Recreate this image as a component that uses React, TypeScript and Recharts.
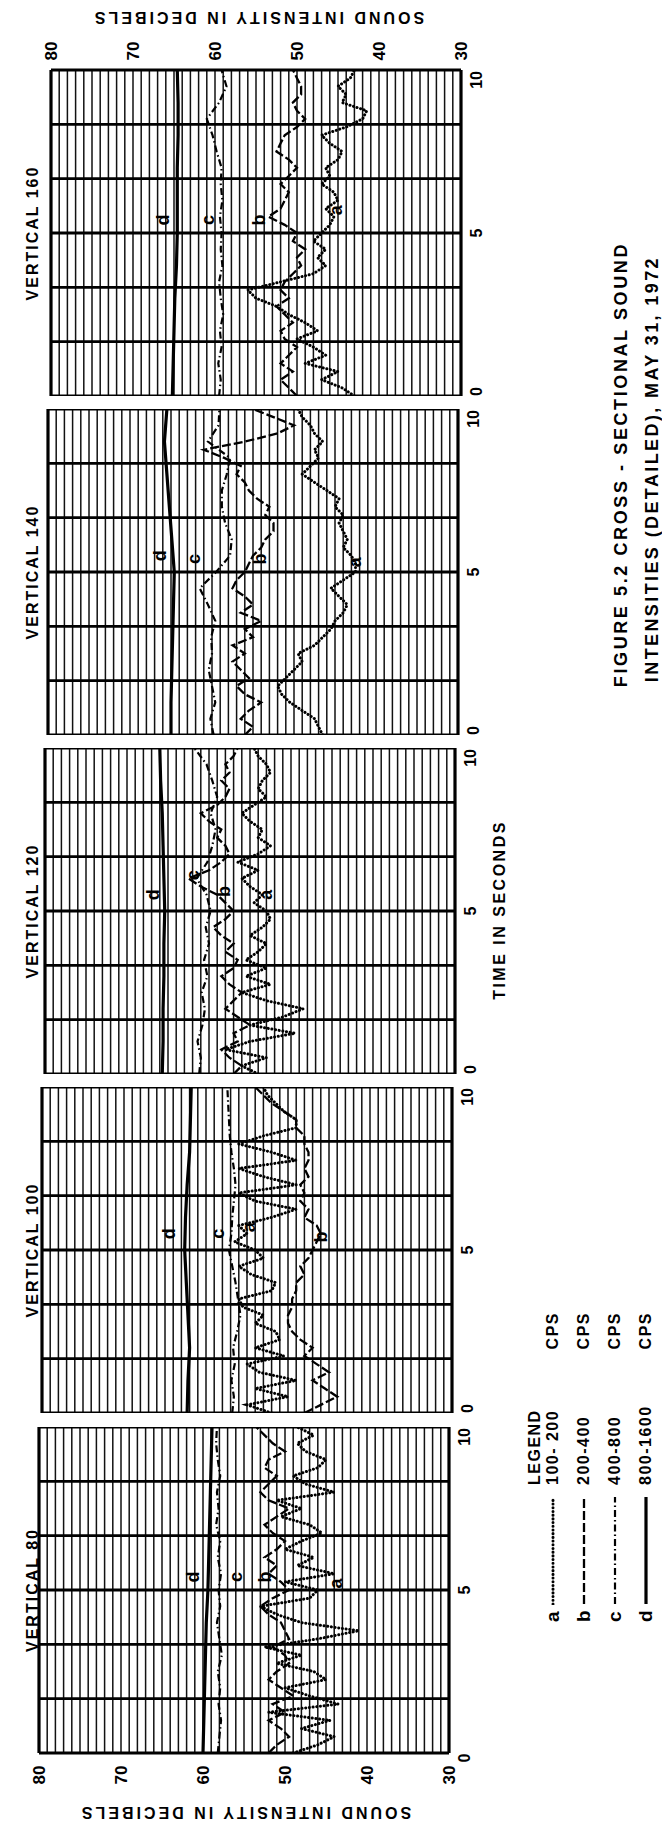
import React from 'react';
import { LineChart, Line, XAxis, YAxis, ReferenceLine, ReferenceDot } from 'recharts';

// sample times (seconds)
const T_Q = [0, 0.25, 0.5, 0.75, 1, 1.25, 1.5, 1.75, 2, 2.25, 2.5, 2.75, 3, 3.25, 3.5, 3.75, 4, 4.25, 4.5, 4.75, 5, 5.25, 5.5, 5.75, 6, 6.25, 6.5, 6.75, 7, 7.25, 7.5, 7.75, 8, 8.25, 8.5, 8.75, 9, 9.25, 9.5, 9.75, 10];
const T_H = [0, 0.5, 1, 1.5, 2, 2.5, 3, 3.5, 4, 4.5, 5, 5.5, 6, 6.5, 7, 7.5, 8, 8.5, 9, 9.5, 10];
const T_S = [0, 1, 2, 3, 4, 5, 6, 7, 8, 9, 10];

const DB_TICKS = [80, 70, 60, 50, 40, 30];
const DB_GRID = [30, 31, 32, 33, 34, 35, 36, 37, 38, 39, 40, 41, 42, 43, 44, 45, 46, 47, 48, 49, 50, 51, 52, 53, 54, 55, 56, 57, 58, 59, 60, 61, 62, 63, 64, 65, 66, 67, 68, 69, 70, 71, 72, 73, 74, 75, 76, 77, 78, 79, 80];
const TIME_TICKS = [0, 5, 10];
const TIME_BANDS = [0, 1.667, 3.333, 5, 6.667, 8.333, 10];

// sound intensity (dB): a 100-200, b 200-400, c 400-800, d 800-1600 cps
const V160_A = [43, 44.5, 47, 45, 49, 46.5, 48, 50, 47.5, 49, 51, 52.5, 55, 56, 52, 48, 46.5, 47.5, 46.5, 48, 47, 46, 45.5, 46.5, 45, 45.5, 47, 46, 46.5, 45, 44.5, 46, 47, 44, 42, 41.5, 44.5, 44, 45, 43.5, 43];
const V160_B = [50, 51, 52, 50.5, 52, 51, 50, 51.5, 52, 50.5, 51.5, 52.5, 51, 52, 51.5, 50.5, 49.5, 50, 49, 50.5, 50, 51.5, 53.5, 52, 51.5, 51, 52, 51, 50, 51, 52.5, 52, 51.5, 50, 49, 50, 50.5, 49.5, 49.5, 50, 50.5];
const V160_C = [59.5, 59.3, 59.6, 59.2, 59.4, 59.0, 59.3, 59.5, 59.1, 59.3, 59.2, 59.4, 59.1, 59.3, 59.2, 59.8, 60.3, 61, 59.5, 58.6, 59.2];
const V160_D = [65.2, 65.1, 65.0, 64.9, 64.7, 64.6, 64.6, 64.6, 64.5, 64.5, 64.6];

const V140_A = [46.5, 47, 47.5, 49, 50.5, 51.5, 52, 51, 50, 49, 49.5, 47.5, 46.5, 45.5, 45, 44, 43.5, 44.5, 45.5, 44, 42.5, 42.5, 43, 44, 43.5, 44, 44.5, 44, 45, 44.5, 46, 47.5, 49, 48, 47, 47.5, 46.5, 47.5, 48, 49, 49.5];
const V140_B = [56, 55, 56.5, 55.5, 54, 56, 57, 55.5, 56.5, 57.5, 56, 57.5, 55, 56, 54, 56.5, 55, 56, 57.5, 57, 56, 55.5, 55, 54, 53.5, 52.5, 52.5, 53.5, 53, 54.5, 55.5, 56, 57, 56.5, 58.5, 61, 56, 52, 50, 52.5, 55];
const V140_C = [59.8, 60.2, 59.6, 60.0, 60.4, 60.0, 60.1, 59.6, 60.5, 61.5, 59.5, 57.8, 57.6, 58.4, 58.8, 58.8, 58.2, 57.8, 60.5, 59.2, 59.1];
const V140_D = [65.0, 65.0, 64.9, 64.8, 64.7, 64.6, 64.9, 65.2, 65.5, 65.8, 65.5];

const V120_A = [54, 56, 53, 58, 55, 49.5, 55, 51, 48.5, 53, 56, 52.5, 55.5, 53, 55.5, 54, 53, 55, 53.5, 52.5, 53, 54.5, 53.5, 55, 56, 54, 56.5, 54, 52.5, 54, 53.5, 55, 56, 54.5, 53, 54, 53.5, 52.5, 53, 54, 54.5];
const V120_B = [57, 56, 57.5, 58.5, 56.5, 57, 55, 56.5, 58, 57, 56, 57.5, 58.5, 57, 56.5, 58, 57, 58.5, 59.5, 58, 57, 58, 59, 61, 62.5, 60, 58.5, 57.5, 58, 59, 58.5, 60, 61, 59, 58, 57.5, 58.5, 57.5, 58, 57, 56.5];
const V120_C = [61.2, 61.0, 61.4, 60.8, 60.5, 60.9, 60.2, 60.6, 60.0, 60.4, 59.8, 60.3, 61.5, 60.2, 59.6, 59.2, 59.8, 59.0, 59.6, 60.3, 61.8];
const V120_D = [65.7, 65.6, 65.6, 65.5, 65.5, 65.4, 65.5, 65.6, 65.7, 65.9, 66.0];

const V100_A = [52, 55, 50, 54, 49, 53.5, 55, 50.5, 54, 51, 51.5, 54, 53, 55.5, 56, 52, 51.5, 54.5, 56, 53, 54, 56.5, 55, 56, 52, 49, 54, 56, 49, 53, 56, 49, 52, 56, 53, 49, 49, 50.5, 51.5, 52.5, 53];
const V100_B = [48, 46, 44, 45.5, 47, 45, 46.5, 48, 47, 48.5, 49.5, 50, 50, 49.5, 49.5, 49, 49, 48, 48.5, 47.5, 47, 46.5, 46, 46.5, 48, 47.5, 48.5, 48, 48.5, 47.5, 48, 47.5, 47.5, 48, 48, 49, 49, 50.5, 52, 53, 54];
const V100_C = [56.8, 56.6, 56.9, 56.5, 56.7, 56.2, 55.8, 56.1, 56.4, 56.8, 57.2, 56.9, 56.8, 56.6, 56.4, 56.6, 56.9, 57.1, 57.2, 57.3, 57.4];
const V100_D = [62.3, 62.2, 62.0, 62.2, 62.4, 62.6, 62.5, 62.3, 62.0, 61.9, 61.8];

const V80_A = [49, 46, 44, 48, 44.5, 52, 43.5, 47, 50, 45, 46.5, 51, 48, 52.5, 46, 41, 48, 51, 53, 47, 46, 50, 44, 48.5, 46.5, 50, 48, 45.5, 47, 50.5, 48, 51, 44, 47.5, 49, 46, 45, 47.5, 48.5, 46.5, 48.5];
const V80_B = [52, 51, 49.5, 50.5, 52, 50, 51.5, 49, 50.5, 52, 51, 49.5, 50, 51.5, 49.5, 50, 50.5, 52, 53, 51.5, 49.5, 50.5, 52, 51, 52.5, 51, 50, 51.5, 52.5, 51, 49.5, 52, 53, 52, 51, 52.5, 52, 50, 51.5, 52.5, 53.5];
const V80_C = [58.2, 58.0, 57.8, 58.1, 57.9, 58.2, 57.7, 58.0, 58.3, 57.9, 58.1, 57.8, 58.2, 57.9, 58.4, 58.1, 58.3, 57.9, 58.2, 58.4, 58.3];
const V80_D = [60.0, 59.9, 59.8, 59.7, 59.6, 59.4, 59.3, 59.2, 59.1, 59.0, 58.9];

// curve letters (dB, s)
const TAGS_160 = [{ k: 'd', db: 66.3, t: 5.4 }, { k: 'c', db: 60.9, t: 5.4 }, { k: 'b', db: 54.6, t: 5.4 }, { k: 'a', db: 45.3, t: 5.7 }];
const TAGS_140 = [{ k: 'd', db: 66.4, t: 5.5 }, { k: 'c', db: 62.2, t: 5.4 }, { k: 'b', db: 54.2, t: 5.4 }, { k: 'a', db: 42.5, t: 5.3 }];
const TAGS_120 = [{ k: 'd', db: 66.8, t: 5.5 }, { k: 'c', db: 62, t: 6.1 }, { k: 'b', db: 58.2, t: 5.6 }, { k: 'a', db: 53, t: 5.5 }];
const TAGS_100 = [{ k: 'd', db: 64.5, t: 5.5 }, { k: 'c', db: 58.5, t: 5.5 }, { k: 'a', db: 54.8, t: 5.7 }, { k: 'b', db: 46, t: 5.4 }];
const TAGS_80 = [{ k: 'd', db: 61.2, t: 5.4 }, { k: 'c', db: 56, t: 5.4 }, { k: 'b', db: 52.4, t: 5.4 }, { k: 'a', db: 43.8, t: 5.2 }];

const PANELS = [
  { name: 'VERTICAL 160', a: V160_A, b: V160_B, c: V160_C, d: V160_D, tags: TAGS_160 },
  { name: 'VERTICAL 140', a: V140_A, b: V140_B, c: V140_C, d: V140_D, tags: TAGS_140 },
  { name: 'VERTICAL 120', a: V120_A, b: V120_B, c: V120_C, d: V120_D, tags: TAGS_120 },
  { name: 'VERTICAL 100', a: V100_A, b: V100_B, c: V100_C, d: V100_D, tags: TAGS_100 },
  { name: 'VERTICAL 80', a: V80_A, b: V80_B, c: V80_C, d: V80_D, tags: TAGS_80 },
];

const LEGEND_ROWS = [
  { k: 'a', range: '100- 200', unit: 'CPS' },
  { k: 'b', range: '200-400', unit: 'CPS' },
  { k: 'c', range: '400-800', unit: 'CPS' },
  { k: 'd', range: '800-1600', unit: 'CPS' },
];

// layout
const PAGE_H = 1828;
const PANEL_TOP = [70, 409, 748, 1087, 1427];
const PANEL_LEFT = [51, 48, 45, 42, 39];
const PLOT_W = 410;
const PLOT_H = 326;
const AXIS_H = 45;
const RIGHT_W = 40;
const PAD_L = 16;
const FONT = "'Liberation Sans', Arial, Helvetica, sans-serif";
const INK = '#000';

const STROKE: Record<string, { dash?: string; w: number; cap?: 'round' | 'butt' }> = {
  a: { dash: '0.1 3.6', w: 3, cap: 'round' },
  b: { dash: '9 3', w: 2.3 },
  c: { dash: '7 3 1.5 3', w: 2.2 },
  d: { w: 3.2 },
};

const pts = (ts: number[], vs: number[]) => ts.map((t, i) => ({ t, db: vs[i] }));

const rotText = (x: number, y: number, value: any, anchor: string, size = 17) => (
  <text
    x={x}
    y={y}
    transform={`rotate(-90 ${x} ${y})`}
    textAnchor={anchor}
    dominantBaseline="central"
    fontFamily={FONT}
    fontWeight={700}
    fontSize={size}
    fill={INK}
  >
    {value}
  </text>
);

const DbTickTop = ({ x, y, payload }: any) => rotText(x, y - 19, payload.value, 'middle');
const DbTickBottom = ({ x, y, payload }: any) => rotText(x, y + 22, payload.value, 'middle');
const timeTick = (last: boolean) => ({ x, y, payload }: any) => {
  const v = payload.value;
  if (v === 0) return last ? rotText(x + 15, y + 5, v, 'middle', 16) : rotText(x + 15, y, v, 'start', 16);
  if (v === 10) return rotText(x + 15, y + 1, v, 'end', 16);
  return rotText(x + 15, y, v, 'middle', 16);
};
const tagLabel = (k: string) => (p: any) => {
  const vb = p.viewBox || {};
  const cx = (vb.x || 0) + (vb.width || 0) / 2;
  const cy = (vb.y || 0) + (vb.height || 0) / 2;
  return rotText(cx, cy, k, 'middle', 18);
};

const textBase = (size: number, spacing: number) => ({
  position: 'absolute' as const,
  whiteSpace: 'nowrap' as const,
  fontFamily: FONT,
  fontWeight: 700,
  fontSize: size,
  letterSpacing: spacing,
  lineHeight: 1,
  color: INK,
});

// reads bottom-to-top, centred on (cx, cy)
const UpText = ({ cx, cy, size = 16, spacing = 0, children }: any) => (
  <div
    style={{
      ...textBase(size, spacing),
      left: cx,
      top: cy,
      writingMode: 'vertical-rl',
      transform: 'translate(-50%, -50%) rotate(180deg)',
    }}
  >
    {children}
  </div>
);

// reads bottom-to-top, starting at (x, y)
const UpStart = ({ x, y, size = 16, spacing = 0, children }: any) => (
  <div
    style={{
      ...textBase(size, spacing),
      left: x - size / 2,
      bottom: PAGE_H - y,
      writingMode: 'vertical-rl',
      transform: 'rotate(180deg)',
    }}
  >
    {children}
  </div>
);

const FlipText = ({ cx, cy, size = 16, spacing = 0, children }: any) => (
  <div style={{ ...textBase(size, spacing), left: cx, top: cy, transform: 'translate(-50%, -50%) rotate(180deg)' }}>
    {children}
  </div>
);

const Panel = ({ p, i }: any) => {
  const last = i === PANELS.length - 1;
  const axis = i === 0 ? 'top' : last ? 'bottom' : 'none';
  const topH = axis === 'top' ? AXIS_H : 0;
  const botH = axis === 'bottom' ? AXIS_H : 0;
  const w = PAD_L + PLOT_W + RIGHT_W;
  const h = PLOT_H + topH + botH;
  const series: Record<string, any[]> = {
    d: pts(T_S, p.d),
    c: pts(T_H, p.c),
    b: pts(T_Q, p.b),
    a: pts(T_Q, p.a),
  };
  return (
    <div style={{ position: 'absolute', left: PANEL_LEFT[i] - PAD_L, top: PANEL_TOP[i] - topH, width: w, height: h }}>
      <LineChart width={w} height={h} layout="vertical" margin={{ top: 0, right: 0, bottom: 0, left: PAD_L }}>
        <XAxis
          type="number"
          domain={[30, 80]}
          reversed
          allowDataOverflow
          ticks={DB_TICKS}
          interval={0}
          orientation={axis === 'top' ? 'top' : 'bottom'}
          hide={axis === 'none'}
          height={AXIS_H}
          axisLine={false}
          tickLine={false}
          tickSize={0}
          tickMargin={0}
          tick={axis === 'top' ? DbTickTop : DbTickBottom}
        />
        <YAxis
          type="number"
          dataKey="t"
          domain={[0, 10]}
          reversed
          allowDataOverflow
          ticks={TIME_TICKS}
          interval={0}
          orientation="right"
          width={RIGHT_W}
          axisLine={false}
          tickLine={false}
          tickSize={0}
          tickMargin={0}
          tick={timeTick(last)}
        />
        {DB_GRID.map((v) => (
          <ReferenceLine key={'g' + v} x={v} stroke="#111" strokeWidth={1.5} />
        ))}
        {TIME_BANDS.map((v) => (
          <ReferenceLine key={'h' + v} y={v} stroke={INK} strokeWidth={2.8} />
        ))}
        <ReferenceLine x={80} stroke={INK} strokeWidth={3.2} />
        <ReferenceLine x={30} stroke={INK} strokeWidth={3.2} />
        {['d', 'c', 'b', 'a'].map((k) => (
          <Line
            key={k}
            data={series[k]}
            dataKey="db"
            type="linear"
            stroke={INK}
            strokeWidth={STROKE[k].w}
            strokeDasharray={STROKE[k].dash}
            strokeLinecap={STROKE[k].cap || 'butt'}
            dot={false}
            activeDot={false}
            isAnimationActive={false}
          />
        ))}
        {p.tags.map((tag: any) => (
          <ReferenceDot key={'t' + tag.k} x={tag.db} y={tag.t} r={0} fill="none" stroke="none" label={tagLabel(tag.k)} />
        ))}
      </LineChart>
    </div>
  );
};

export default function App() {
  return (
    <div style={{ position: 'absolute', left: 0, top: 0, width: 667, height: PAGE_H, background: '#fff', overflow: 'hidden' }}>
      {PANELS.map((p, i) => (
        <Panel key={p.name} p={p} i={i} />
      ))}

      {PANELS.map((p, i) => (
        <UpText key={'n' + i} cx={33} cy={PANEL_TOP[i] + PLOT_H / 2} size={16} spacing={2}>
          {p.name}
        </UpText>
      ))}

      <FlipText cx={258} cy={17} size={16} spacing={3}>
        SOUND INTENSITY IN DECIBELS
      </FlipText>
      <FlipText cx={245} cy={1812} size={16} spacing={3}>
        SOUND INTENSITY IN DECIBELS
      </FlipText>

      <UpText cx={500} cy={910} size={16} spacing={2.5}>
        TIME IN SECONDS
      </UpText>

      {/* legend, drawn horizontally then turned to read bottom-to-top */}
      <div
        style={{
          position: 'absolute',
          left: 592 - 156,
          top: 1466 - 65,
          width: 312,
          height: 130,
          transform: 'rotate(-90deg)',
          fontFamily: FONT,
          fontWeight: 700,
          color: INK,
        }}
      >
        <div style={{ position: 'absolute', left: 137, top: 0, fontSize: 16, letterSpacing: 1.5, lineHeight: '16px' }}>LEGEND</div>
        {LEGEND_ROWS.map((r, j) => {
          const cy = 26 + j * 31;
          const s = STROKE[r.k];
          return (
            <div key={r.k}>
              <div style={{ position: 'absolute', left: 0, top: cy - 10, fontSize: 19, lineHeight: '20px' }}>{r.k}</div>
              <svg style={{ position: 'absolute', left: 17, top: cy - 4 }} width={110} height={8}>
                <line x1={1} y1={4} x2={108} y2={4} stroke={INK} strokeWidth={s.w} strokeDasharray={s.dash} strokeLinecap={s.cap || 'butt'} />
              </svg>
              <div style={{ position: 'absolute', left: 137, top: cy - 8, fontSize: 16, letterSpacing: 1.5, lineHeight: '16px' }}>{r.range}</div>
              <div style={{ position: 'absolute', right: 2, top: cy - 8, fontSize: 16, letterSpacing: 1.5, lineHeight: '16px' }}>{r.unit}</div>
            </div>
          );
        })}
      </div>

      <UpStart x={621} y={687} size={18} spacing={2.6}>
        FIGURE 5.2 CROSS - SECTIONAL SOUND
      </UpStart>
      <UpStart x={652} y={682} size={18} spacing={2.4}>
        INTENSITIES (DETAILED), MAY 31, 1972
      </UpStart>
    </div>
  );
}
